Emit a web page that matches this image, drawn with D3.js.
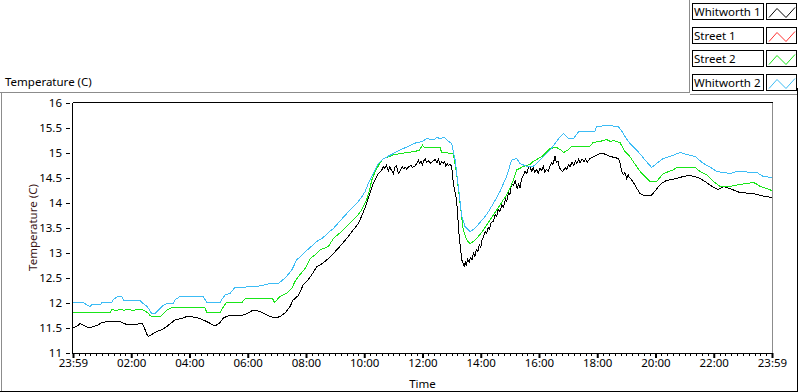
<!DOCTYPE html>
<html><head><meta charset="utf-8">
<script src="https://cdn.jsdelivr.net/npm/d3@7"></script>
<style>
body{margin:0;background:#fff}
svg{display:block}
text{font-family:"Noto Sans",sans-serif;font-size:11.5px;fill:#000}
</style>
</head><body>
<svg id="c" width="800" height="392"></svg>
<script>
// ---- data: [hours since 23:59 start, temperature (C)] ----
const seriesNames = ["Whitworth 1", "Street 1", "Street 2", "Whitworth 2"];
const seriesColors = ["#000000", "#ff3030", "#19e619", "#3cbcf5"];
const xTickLabels = ["23:59","02:00","04:00","06:00","08:00","10:00","12:00","14:00","16:00","18:00","20:00","22:00","23:59"];
const yTickValues = [11,11.5,12,12.5,13,13.5,14,14.5,15,15.5,16];

const whitworth1 = [
[0.00,11.50],[0.13,11.52],[0.24,11.58],[0.35,11.55],[0.45,11.52],[0.58,11.49],[0.70,11.52],[0.85,11.55],[1.00,11.60],[1.21,11.62],[1.40,11.61],[1.62,11.62],[1.84,11.56],[2.00,11.55],[2.19,11.56],[2.36,11.59],[2.45,11.50],[2.52,11.38],[2.59,11.32],[2.70,11.36],[2.87,11.42],[2.98,11.44],[3.10,11.47],[3.22,11.52],[3.35,11.58],[3.50,11.65],[3.65,11.67],[3.79,11.69],[3.90,11.72],[4.07,11.72],[4.20,11.70],[4.36,11.68],[4.59,11.62],[4.75,11.57],[4.82,11.55],[4.93,11.55],[5.05,11.60],[5.16,11.69],[5.39,11.75],[5.60,11.74],[5.85,11.75],[6.02,11.79],[6.19,11.85],[6.30,11.84],[6.42,11.82],[6.65,11.75],[6.88,11.70],[7.00,11.70],[7.11,11.72],[7.28,11.79],[7.45,11.92],[7.56,12.05],[7.74,12.14],[7.91,12.36],[8.08,12.46],[8.25,12.60],[8.37,12.72],[8.48,12.75],[8.65,12.82],[8.77,12.88],[8.94,12.98],[9.10,13.08],[9.28,13.20],[9.45,13.32],[9.62,13.45],[9.80,13.58],[9.95,13.78],[10.08,13.98],[10.20,14.20],[10.31,14.38],[10.45,14.55],
[10.60,14.65],[10.66,14.72],[10.70,14.68],[10.76,14.74],[10.83,14.64],[10.88,14.72],[10.92,14.66],[11.00,14.58],[11.05,14.70],[11.11,14.74],[11.15,14.62],[11.18,14.58],[11.23,14.64],[11.30,14.72],[11.35,14.68],[11.42,14.70],[11.46,14.66],[11.52,14.72],[11.60,14.74],[11.66,14.70],[11.74,14.73],[11.80,14.78],[11.86,14.84],[11.90,14.78],[11.95,14.82],[12.00,14.76],[12.05,14.84],[12.09,14.88],[12.14,14.80],[12.20,14.84],[12.28,14.78],[12.37,14.83],[12.43,14.86],[12.50,14.80],[12.55,14.86],[12.60,14.76],[12.66,14.82],[12.71,14.78],[12.76,14.82],[12.80,14.72],[12.85,14.78],[12.89,14.74],[12.95,14.76],[13.00,14.72],
[13.06,14.38],[13.17,14.05],[13.26,13.32],[13.35,12.85],
[13.43,12.72],[13.47,12.80],[13.50,12.74],[13.55,12.86],[13.60,12.80],[13.65,12.90],[13.70,12.86],[13.75,12.98],[13.80,12.92],[13.85,13.06],[13.90,13.02],[13.95,13.15],[14.00,13.10],[14.05,13.28],[14.09,13.30],[14.15,13.42],[14.20,13.38],[14.25,13.50],[14.30,13.46],[14.36,13.60],[14.43,13.62],[14.50,13.76],[14.55,13.72],[14.60,13.86],[14.66,13.82],[14.72,13.95],[14.78,13.90],[14.85,14.08],[14.89,14.02],[14.95,14.20],[15.00,14.16],[15.06,14.38],[15.12,14.34],[15.18,14.44],[15.25,14.28],[15.30,14.36],[15.35,14.30],[15.40,14.48],[15.45,14.52],[15.52,14.62],[15.58,14.58],[15.64,14.70],[15.69,14.72],[15.75,14.62],[15.80,14.70],[15.86,14.60],[15.92,14.66],[15.97,14.58],[16.03,14.68],[16.10,14.64],[16.15,14.72],[16.20,14.60],[16.25,14.66],[16.32,14.62],[16.38,14.74],[16.44,14.80],[16.48,14.76],[16.55,14.92],[16.60,14.80],[16.66,14.82],[16.70,14.70],[16.75,14.66],[16.80,14.62],[16.84,14.64],[16.90,14.70],[16.95,14.66],[17.01,14.76],[17.07,14.72],[17.13,14.80],[17.20,14.74],[17.25,14.84],[17.30,14.78],[17.36,14.86],[17.41,14.80],[17.48,14.87],[17.55,14.82],[17.60,14.88],[17.65,14.80],
[17.75,14.88],[17.90,14.92],[18.09,14.98],[18.25,14.97],[18.44,14.92],[18.60,14.90],
[18.72,14.88],[18.78,14.80],[18.84,14.62],[18.90,14.56],[18.95,14.60],[19.01,14.48],[19.06,14.56],[19.10,14.50],[19.17,14.46],[19.24,14.40],[19.30,14.34],[19.35,14.28],[19.41,14.24],[19.47,14.18],
[19.60,14.14],[19.70,14.13],[19.87,14.15],[20.00,14.24],[20.10,14.32],[20.25,14.40],[20.38,14.44],[20.55,14.46],[20.73,14.48],[20.95,14.52],[21.18,14.54],[21.35,14.52],[21.53,14.48],[21.70,14.42],[21.87,14.35],[22.00,14.30],[22.16,14.26],[22.33,14.32],[22.56,14.28],[22.75,14.23],[22.90,14.20],[23.10,14.19],[23.36,14.18],[23.55,14.15],[23.70,14.13],[24.00,14.10]];

const street1 = [];

const street2 = [
[0,11.80],[1.28,11.80],[1.33,11.86],[1.50,11.84],[1.62,11.87],[1.75,11.84],[1.90,11.87],[2.05,11.84],[2.20,11.86],[2.40,11.85],[2.55,11.80],[2.65,11.74],[2.70,11.72],[3.00,11.72],[3.10,11.78],[3.22,11.85],[3.39,11.90],[4.53,11.90],[4.59,11.80],[5.05,11.80],[5.15,11.90],[5.27,12.00],[5.80,12.00],[5.90,12.07],[6.85,12.08],[6.92,12.00],[7.00,12.05],[7.10,12.12],[7.33,12.18],[7.51,12.28],[7.62,12.42],[7.74,12.52],[7.97,12.68],[8.14,12.88],[8.30,12.95],[8.48,13.05],[8.77,13.12],[8.94,13.28],[9.10,13.36],[9.28,13.45],[9.45,13.55],[9.62,13.65],[9.78,13.75],[9.91,13.85],[10.08,14.05],[10.18,14.25],[10.26,14.45],[10.35,14.58],[10.43,14.68],[10.55,14.80],[10.66,14.88],[11.00,14.95],[11.23,14.98],[11.74,15.02],[11.90,15.05],[12.00,15.15],[12.06,15.10],[12.60,15.10],[12.66,15.00],[13.06,14.98],[13.17,14.58],[13.29,13.98],[13.40,13.45],[13.52,13.25],[13.63,13.18],[13.75,13.22],[13.86,13.28],[13.97,13.36],[14.09,13.45],[14.20,13.55],[14.32,13.65],[14.43,13.75],[14.55,13.85],[14.66,13.95],[14.77,14.05],[14.89,14.15],[15.00,14.28],[15.12,14.45],[15.23,14.65],[15.46,14.72],[15.69,14.76],[15.80,14.82],[15.98,14.88],[16.10,14.92],[16.21,14.98],[16.38,15.08],[16.61,15.10],[16.75,15.05],[16.84,15.00],[17.00,15.05],[17.12,15.12],[17.75,15.13],[17.86,15.20],[18.09,15.22],[18.20,15.24],[18.32,15.26],[18.45,15.22],[18.55,15.24],[18.78,15.20],[18.95,15.02],[19.12,14.92],[19.35,14.72],[19.50,14.60],[19.64,14.52],[19.81,14.42],[20.04,14.42],[20.15,14.50],[20.27,14.58],[20.61,14.65],[20.73,14.70],[21.36,14.70],[21.53,14.62],[21.76,14.55],[21.99,14.42],[22.22,14.32],[22.56,14.32],[22.80,14.35],[23.01,14.37],[23.36,14.40],[23.50,14.36],[23.59,14.32],[23.80,14.28],[24.00,14.24]];

const whitworth2 = [
[0,12.00],[0.35,12.00],[0.50,11.94],[0.58,11.92],[0.65,11.96],[0.95,11.96],[1.00,12.00],[1.33,12.00],[1.38,12.06],[1.55,12.12],[1.67,12.12],[1.73,12.05],[2.30,12.05],[2.36,12.00],[2.55,11.92],[2.70,11.78],[2.82,11.78],[2.93,11.85],[3.05,11.92],[3.22,11.98],[3.44,11.98],[3.50,12.05],[3.67,12.12],[4.47,12.12],[4.59,12.00],[5.05,12.00],[5.10,12.05],[5.22,12.15],[5.39,12.18],[5.56,12.30],[6.31,12.32],[6.55,12.35],[6.76,12.38],[7.05,12.38],[7.20,12.45],[7.33,12.52],[7.51,12.65],[7.68,12.85],[7.91,12.98],[8.14,13.10],[8.37,13.22],[8.59,13.30],[8.77,13.40],[8.94,13.48],[9.15,13.62],[9.40,13.78],[9.60,13.90],[9.74,13.98],[9.90,14.10],[10.03,14.22],[10.15,14.40],[10.31,14.58],[10.45,14.75],[10.60,14.85],[10.80,14.92],[11.00,14.98],[11.23,15.05],[11.50,15.12],[11.80,15.20],[12.00,15.22],[12.14,15.28],[12.37,15.25],[12.50,15.30],[12.60,15.28],[12.75,15.30],[12.83,15.25],[13.00,15.18],[13.12,14.85],[13.23,14.32],[13.35,13.72],[13.46,13.52],[13.63,13.42],[13.75,13.46],[13.86,13.52],[14.00,13.62],[14.15,13.72],[14.30,13.85],[14.43,13.98],[14.55,14.10],[14.66,14.22],[14.78,14.38],[14.89,14.52],[15.06,14.85],[15.23,14.88],[15.35,14.78],[15.58,14.72],[15.80,14.72],[16.03,14.85],[16.20,14.95],[16.38,15.05],[16.55,15.18],[16.70,15.30],[16.84,15.38],[17.01,15.28],[17.19,15.28],[17.36,15.42],[17.92,15.42],[17.98,15.52],[18.38,15.54],[18.72,15.52],[18.85,15.42],[18.95,15.32],[19.12,15.18],[19.35,15.05],[19.50,14.95],[19.64,14.85],[19.87,14.70],[20.04,14.78],[20.27,14.88],[20.50,14.92],[20.84,15.00],[21.07,14.96],[21.36,14.92],[21.50,14.85],[21.65,14.78],[21.90,14.70],[22.10,14.62],[22.56,14.58],[22.79,14.62],[23.48,14.60],[23.70,14.52],[24.00,14.50]];

const seriesData = [whitworth1, street1, street2, whitworth2];

// ---- drawing ----
const svg = d3.select("#c");
const gray = "#8c8c8c";

const x = d3.scaleLinear().domain([0, 24]).range([73, 772]);
const y = d3.scaleLinear().domain([11, 16]).range([352.5, 102.5]);

// outer frame
const frame = svg.append("g").attr("fill", "none").attr("shape-rendering", "crispEdges");
frame.append("path").attr("stroke", gray).attr("d", "M0,92.5H689.5V0M689.5,94.5H797M1.5,92.5V391");
frame.append("path").attr("stroke", "#000").attr("d", "M797.5,88V391.5H0");

// title
svg.append("text").attr("x", 5).attr("y", 86).text("Temperature (C)");

// plot border
frame.append("path").attr("stroke", "#000").attr("d", `M${x(0)},${y(16)}H${x(24)+0.5}`);
frame.append("path").attr("stroke", gray).attr("d", `M${x(24)+0.5},${y(16)}V${y(11)}`);

// clip
svg.append("clipPath").attr("id", "clip").append("rect")
  .attr("x", x(0)).attr("y", y(16)).attr("width", x(24) - x(0)).attr("height", y(11) - y(16));

// lines
const line = d3.line().x(d => x(d[0])).y(d => y(d[1]));
const lines = svg.append("g").attr("clip-path", "url(#clip)");
seriesNames.forEach((name, i) => {
  const pts = seriesData[i];
  if (!pts.length) return;
  lines.append("path").datum(pts)
    .attr("fill", "none").attr("stroke", seriesColors[i]).attr("stroke-width", 1)
    .attr("shape-rendering", "crispEdges")
    .attr("d", line);
});

// y axis
const yAxis = svg.append("g").attr("transform", "translate(70,0)")
  .call(d3.axisLeft(y).tickValues(yTickValues).tickFormat(d3.format("~g")).tickSize(4).tickPadding(4));
yAxis.select(".domain").remove();
yAxis.selectAll("text").style("font-size", "11.5px").style("font-family", '"Noto Sans",sans-serif');
yAxis.attr("shape-rendering", "crispEdges");
svg.append("path").attr("stroke", "#000").attr("fill", "none").attr("shape-rendering", "crispEdges")
  .attr("d", `M${x(0)-0.5},${y(16)}V${y(11)+0.5}`);

// x axis
const xMinor = svg.append("g").attr("transform", `translate(0,${y(11)+0.5})`)
  .call(d3.axisBottom(x).tickValues(d3.range(0, 24.001, 0.2)).tickSize(3).tickFormat(""));
xMinor.select(".domain").remove();
xMinor.attr("shape-rendering", "crispEdges");
const xMajor = svg.append("g").attr("transform", `translate(0,${y(11)+0.5})`)
  .call(d3.axisBottom(x).tickValues(d3.range(0, 25, 2)).tickSize(5).tickPadding(1)
    .tickFormat((d, i) => xTickLabels[i]));
xMajor.selectAll("line").attr("stroke-width", 2);
xMajor.selectAll("text").style("font-size", "11.5px").style("font-family", '"Noto Sans",sans-serif');
xMajor.select(".domain").attr("d", `M${x(0)-1},0.5H${x(24)+1}`).attr("shape-rendering", "crispEdges");

// axis titles
svg.append("text").attr("x", (x(0) + x(24)) / 2).attr("y", 388).attr("text-anchor", "middle").text("Time");
svg.append("text").attr("transform", `translate(37,${(y(11)+y(16))/2}) rotate(-90)`)
  .attr("text-anchor", "middle").style("fill", "#3a1515").text("Temperature (C)");

// legend
const leg = svg.append("g");
seriesNames.forEach((name, i) => {
  const top = 3.5 + Math.round(i * 23.67);
  const g = leg.append("g").attr("transform", `translate(0,${top})`);
  g.append("rect").attr("x", 692.5).attr("y", 0).attr("width", 71).attr("height", 16)
    .attr("fill", "#fff").attr("stroke", "#000").attr("shape-rendering", "crispEdges");
  g.append("rect").attr("x", 766.5).attr("y", 0).attr("width", 30).attr("height", 16)
    .attr("fill", "#fff").attr("stroke", "#000").attr("shape-rendering", "crispEdges");
  g.append("text").attr("x", 694).attr("y", 12.5).text(name);
  g.append("path").attr("fill", "none").attr("stroke", seriesColors[i])
    .attr("d", "M769,14L777,5L786,14L795,4");
});
</script>
</body></html>
